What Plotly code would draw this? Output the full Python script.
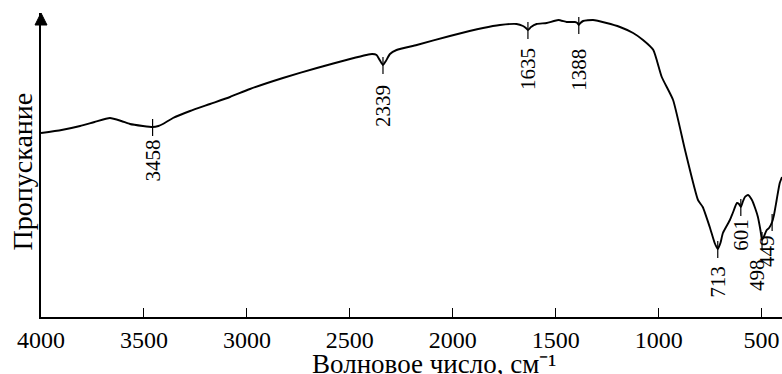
import numpy as np
import plotly.graph_objects as go

# IR spectrum: wavenumber (cm^-1) and transmittance (arbitrary units)
wavenumber = [4000, 3900, 3810, 3740, 3665, 3610, 3568, 3505, 3458, 3430, 3408,
              3359, 3276, 3179, 3082, 2985, 2825, 2660, 2499, 2420, 2392, 2370,
              2355, 2339, 2325, 2305, 2273, 2175, 2014, 1853, 1771, 1690, 1659,
              1645, 1635, 1620, 1593, 1544, 1487, 1447, 1407, 1395, 1388, 1380,
              1367, 1319, 1253, 1188, 1124, 1076, 1026, 985, 930, 872, 809, 786,
              752, 728, 713, 700, 688, 654, 640, 620, 610, 601, 590, 581, 566,
              547, 530, 518, 505, 498, 490, 475, 464, 449, 440, 427, 412, 401]
transmittance = [184, 187, 191, 195, 199, 196, 193, 191, 190, 191, 193,
                 199, 206, 213, 220, 228, 239, 249, 258, 262, 263, 262,
                 257, 252, 256, 263, 267, 272, 281, 289, 292, 293, 291,
                 289, 287, 290, 293, 294, 297, 295, 295, 294, 292, 294,
                 296, 297, 294, 290, 284, 277, 267, 240, 217, 167, 117, 110,
                 90, 74, 68, 74, 84, 97, 104, 114, 113, 110, 116, 120, 122,
                 117, 108, 100, 86, 77, 80, 87, 89, 95, 102, 117, 134, 140]

# Marked absorption bands
peak_positions = [3458, 2339, 1635, 1388, 713, 601, 498, 449]

x_ticks = [4000, 3500, 3000, 2500, 2000, 1500, 1000, 500]
x_title = "Волновое число, см⁻¹"
y_title = "Пропускание"

# label placement per band: (gap below the curve in px, horizontal shift in px)
label_place = {3458: (11, 0), 2339: (18, 0), 1635: (16, 0), 1388: (22, 0),
               713: (15, 0), 601: (10, 0), 498: (17, -5), 449: (11, -5)}

SERIF = "Liberation Serif, Times New Roman, serif"

fig = go.Figure(go.Scatter(
    x=wavenumber, y=transmittance, mode="lines",
    line=dict(color="black", width=1.9, shape="spline", smoothing=0.5),
    hoverinfo="skip", showlegend=False,
))

# interpolate curve height at each band position (np.interp needs ascending x)
wn_asc = np.array(wavenumber[::-1], dtype=float)
tr_asc = np.array(transmittance[::-1], dtype=float)

shapes = []
annotations = []
for p in peak_positions:
    t = float(np.interp(p, wn_asc, tr_asc))
    shapes.append(dict(type="line", xref="x", yref="y", x0=p, x1=p,
                       y0=t - 9, y1=t + 8, line=dict(color="black", width=1.2)))
    gap, dx = label_place[p]
    annotations.append(dict(x=p, y=t - gap, xref="x", yref="y", text=str(p),
                            textangle=-90, showarrow=False, xanchor="center",
                            yanchor="top", xshift=dx,
                            font=dict(family=SERIF, size=21, color="black")))

# arrowhead on top of the vertical axis
shapes.append(dict(type="path", xref="paper", yref="paper",
                   xsizemode="pixel", ysizemode="pixel", xanchor=0, yanchor=1,
                   path="M -6,-12 L 0,0 L 6,-12 Z",
                   fillcolor="black", line=dict(color="black", width=1)))

# axis titles
annotations.append(dict(x=0.53, y=0, xref="paper", yref="paper", text=x_title,
                        showarrow=False, xanchor="center", yanchor="top",
                        yshift=-31, borderpad=0,
                        font=dict(family=SERIF, size=27, color="black")))
annotations.append(dict(x=0, y=0.479, xref="paper", yref="paper", text=y_title,
                        showarrow=False, xanchor="center", yanchor="middle",
                        xshift=-19, textangle=-90,
                        font=dict(family=SERIF, size=28, color="black")))

fig.update_layout(
    width=782, height=374,
    margin=dict(l=41, r=0, t=13, b=57),
    paper_bgcolor="white", plot_bgcolor="white",
    shapes=shapes, annotations=annotations,
    xaxis=dict(range=[4000, 401], tickvals=x_ticks, ticktext=[str(v) for v in x_ticks],
               ticks="inside", ticklen=9, tickwidth=1.3, tickcolor="black",
               showline=True, linecolor="black", linewidth=1.5,
               showgrid=False, zeroline=False,
               tickfont=dict(family=SERIF, size=24, color="black")),
    yaxis=dict(range=[0, 304], showline=True, linecolor="black", linewidth=1.5,
               showticklabels=False, ticks="", showgrid=False, zeroline=False),
)

fig.write_html("out.html")
